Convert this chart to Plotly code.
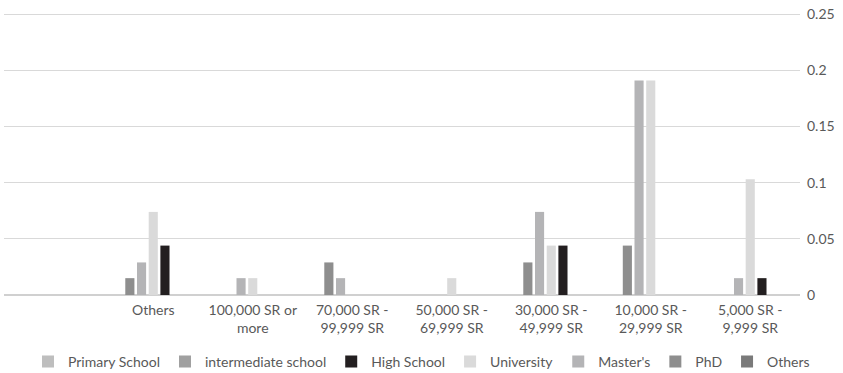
import plotly.graph_objects as go

# Income bands, in the order they appear along the axis (left to right)
categories = [
    " ",
    "Others",
    "100,000 SR or<br>more",
    "70,000 SR -<br>99,999 SR",
    "50,000 SR -<br>69,999 SR",
    "30,000 SR -<br>49,999 SR",
    "10,000 SR -<br>29,999 SR",
    "5,000 SR -<br>9,999 SR",
]

# Share of respondents per education level
primary_school = [0, 0, 0, 0, 0, 0, 0, 0]
intermediate_school = [0, 0, 0, 0, 0, 0, 0, 0]
high_school = [0, 0.044, 0, 0, 0, 0.044, 0, 0.015]
university = [0, 0.074, 0.015, 0, 0.015, 0.044, 0.191, 0.103]
masters = [0, 0.029, 0.015, 0.015, 0, 0.074, 0.191, 0.015]
phd = [0, 0.015, 0, 0.029, 0, 0.029, 0.044, 0]
others = [0, 0, 0, 0, 0, 0, 0, 0]

y_ticks = [0, 0.05, 0.1, 0.15, 0.2, 0.25]
y_tick_labels = ["0", "0.05", "0.1", "0.15", "0.2", "0.25"]

# Series drawn within each cluster from left to right
series = [
    ("Others", others, "#7A7A7A"),
    ("PhD", phd, "#8E8E8E"),
    ("Master's", masters, "#B4B4B6"),
    ("University", university, "#DADADA"),
    ("High School", high_school, "#231F20"),
    ("intermediate school", intermediate_school, "#A0A0A0"),
    ("Primary School", primary_school, "#BEBEBE"),
]

FONT = "Lato"
TEXT = "#595959"

fig = go.Figure()
for name, values, color in series:
    fig.add_trace(go.Bar(
        x=categories,
        y=values,
        name=name,
        marker=dict(color=color, line=dict(width=0)),
    ))

fig.update_layout(
    width=843,
    height=373,
    margin=dict(l=4, r=43, t=12, b=78),
    paper_bgcolor="white",
    plot_bgcolor="white",
    barmode="group",
    bargap=0.177,
    bargroupgap=0.22,
    font=dict(family=FONT, size=14, color=TEXT),
    showlegend=True,
    legend=dict(
        orientation="h",
        traceorder="reversed",
        xref="container",
        yref="container",
        x=0.5,
        xanchor="center",
        y=0.03,
        yanchor="middle",
        font=dict(family=FONT, size=14, color=TEXT),
        itemwidth=30,
    ),
)

fig.update_xaxes(
    type="category",
    categoryorder="array",
    categoryarray=categories,
    showgrid=False,
    showline=False,
    ticks="",
    ticklabelstandoff=5,
    tickfont=dict(family=FONT, size=14, color=TEXT),
    fixedrange=True,
)

# A little headroom above 0.25 keeps its gridline visible
fig.update_yaxes(
    side="right",
    range=[0, 0.252],
    tickvals=y_ticks,
    ticktext=y_tick_labels,
    showgrid=True,
    gridcolor="#D9D9D9",
    gridwidth=1,
    zeroline=True,
    zerolinecolor="#D0D0D0",
    zerolinewidth=1.5,
    showline=False,
    ticks="",
    ticklabelstandoff=6,
    tickfont=dict(family=FONT, size=14, color=TEXT),
    fixedrange=True,
)

fig.write_html("out.html")
